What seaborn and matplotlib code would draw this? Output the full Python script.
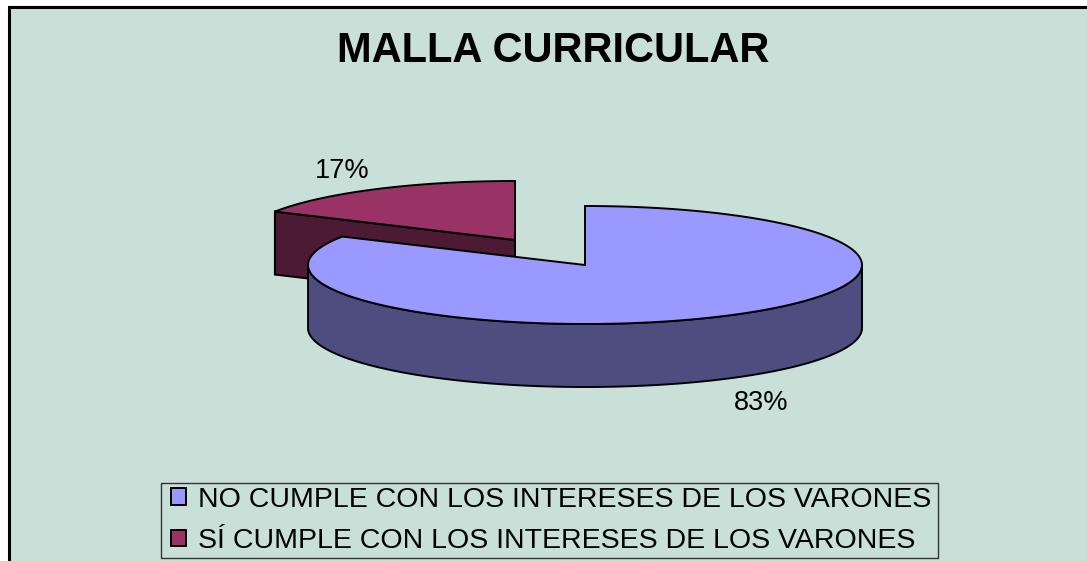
import matplotlib.pyplot as plt
from matplotlib.patches import Patch, Rectangle
import seaborn as sns
import numpy as np

labels = ['NO CUMPLE CON LOS INTERESES DE LOS VARONES', 'SÍ CUMPLE CON LOS INTERESES DE LOS VARONES']
values = [83, 17]
pct_labels = ['83%', '17%']
title = 'MALLA CURRICULAR'

top_colors = ['#9999FF', '#993366']
side_colors = ['#4D4D80', '#4D1A33']
bg = '#C9E0D8'

sns.set_theme(style='white')
plt.rcParams['font.family'] = ['Liberation Sans', 'DejaVu Sans']

fig = plt.figure(figsize=(10.87, 5.61), dpi=100)
ax = fig.add_axes([0, 0, 1, 1])
ax.set_xlim(0, 1087)
ax.set_ylim(561, 0)
ax.axis('off')

# chart area, cut off on the right and at the bottom
ax.add_patch(Rectangle((9, 7), 1200, 700, fc=bg, ec='black', lw=2.2, zorder=0))

# pie geometry
rxs = [277, 274]
ry, depth = 59, 63
centers = [(585, 265), (515, 240)]

# angles clockwise from 12 o'clock
edges = np.cumsum([0] + values) / sum(values) * 2 * np.pi


def ell(i, t):
    cx, cy = centers[i]
    return cx + rxs[i] * np.sin(t), cy - ry * np.cos(t)


def draw_slice(i, z):
    cx, cy = centers[i]
    t = np.linspace(edges[i], edges[i + 1], 200)
    x, y = ell(i, t)
    # outer wall, only the part facing the viewer
    front = t[(t >= np.pi / 2) & (t <= 3 * np.pi / 2)]
    if len(front):
        fx, fy = ell(i, front)
        ax.fill(np.r_[fx, fx[::-1]], np.r_[fy, fy[::-1] + depth], fc=side_colors[i],
                ec='black', lw=1.4, zorder=z)
    # cut walls
    if i == 1:
        ex, ey = ell(i, edges[i])
        ax.fill([cx, ex, ex, cx], [cy, ey, ey + depth, cy + depth], fc=side_colors[i],
                ec='black', lw=1.4, zorder=z)
    # top face
    ax.fill(np.r_[cx, x], np.r_[cy, y], fc=top_colors[i], ec='black', lw=1.4,
            joinstyle='miter', zorder=z + 0.5)


draw_slice(1, 2)
draw_slice(0, 3)

ax.text(553, 51, title, ha='center', va='center', fontsize=30, fontweight='bold', color='black')
ax.text(761, 403, pct_labels[0], ha='center', va='center', fontsize=19.5, color='black')
ax.text(342, 171, pct_labels[1], ha='center', va='center', fontsize=19.5, color='black')

# legend box drawn apart, the text sits tighter in height than in width
ax.add_patch(Rectangle((161, 483), 777, 75, fc=bg, ec='#333333', lw=1.0, zorder=5))
handles = [Patch(fc=c, ec='black', lw=1.4) for c in top_colors]
leg = ax.legend(handles, labels, loc='center', bbox_to_anchor=(551.5 / 1087, 1 - 520.5 / 561),
                fontsize=20.5, labelcolor='black', frameon=False, handlelength=0.53,
                handleheight=0.53, handletextpad=0.42, labelspacing=0.54, borderpad=0,
                borderaxespad=0)
leg.set_zorder(6)

plt.savefig('out.png', dpi=100)
